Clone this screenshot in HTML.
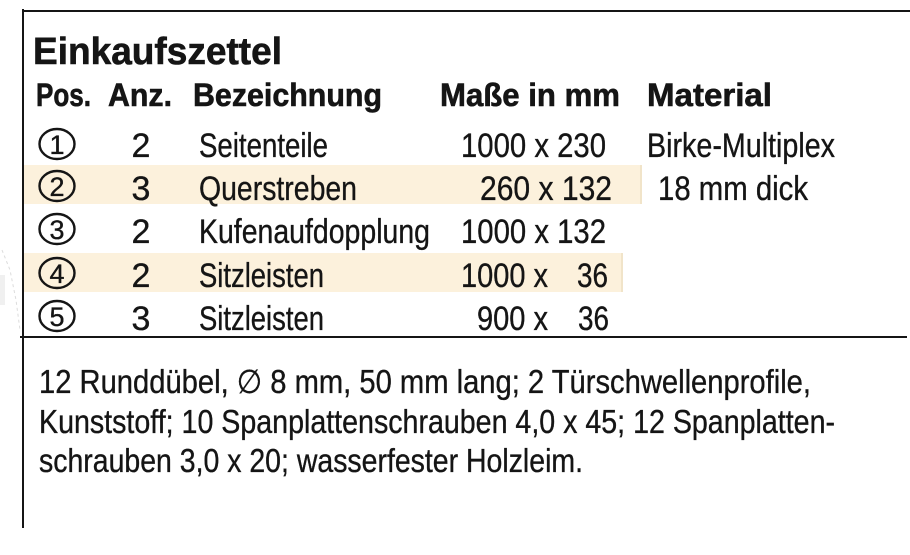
<!DOCTYPE html>
<html>
<head>
<meta charset="utf-8">
<style>
  html, body { margin: 0; padding: 0; background: #ffffff; }
  body { width: 910px; height: 555px; overflow: hidden; }
  svg { display: block; }
  text { fill: #151515; font-family: "Liberation Sans", "DejaVu Sans", sans-serif; stroke: #151515; stroke-width: 0.35; }
  .b { font-weight: bold; stroke-width: 0.6; }
</style>
</head>
<body>
<svg width="910" height="555" viewBox="0 0 910 555" xmlns="http://www.w3.org/2000/svg">
  <rect x="0" y="0" width="910" height="555" fill="#ffffff"/>

  <!-- faint artifacts at left edge -->
  <path d="M2 250 L10 270 L16 300 L20 330" stroke="#dcdcdc" stroke-width="1" stroke-dasharray="3,3" fill="none"/>
  <rect x="0" y="275" width="5" height="30" fill="#f0f0f0"/>

  <!-- highlight bands -->
  <rect x="23" y="165" width="619" height="39" fill="#fcf1dc"/>
  <rect x="640" y="165" width="2" height="39" fill="#f1e4c9"/>
  <rect x="23" y="253" width="600" height="39" fill="#fcf1dc"/>
  <rect x="621" y="253" width="2" height="39" fill="#f1e4c9"/>

  <!-- lines -->
  <rect x="22" y="10" width="888" height="2" fill="#151515"/>
  <rect x="22" y="9" width="2" height="519" fill="#151515"/>
  <rect x="20" y="336" width="887" height="2" fill="#151515"/>

  <!-- title -->
  <text class="b" x="33" y="64" font-size="38" textLength="249" lengthAdjust="spacingAndGlyphs">Einkaufszettel</text>

  <!-- header -->
  <text class="b" x="36" y="106" font-size="32" textLength="55" lengthAdjust="spacingAndGlyphs">Pos.</text>
  <text class="b" x="108" y="106" font-size="32" textLength="64" lengthAdjust="spacingAndGlyphs">Anz.</text>
  <text class="b" x="193" y="106" font-size="32" textLength="189" lengthAdjust="spacingAndGlyphs">Bezeichnung</text>
  <text class="b" x="440" y="106" font-size="32" textLength="180" lengthAdjust="spacingAndGlyphs">Maße in mm</text>
  <text class="b" x="647" y="106" font-size="32" textLength="125" lengthAdjust="spacingAndGlyphs">Material</text>

  <!-- circled numbers -->
  <g fill="none" stroke="#151515" stroke-width="2.4">
    <ellipse cx="57" cy="144" rx="17.5" ry="15"/>
    <ellipse cx="57" cy="186" rx="17.5" ry="15"/>
    <ellipse cx="57" cy="229" rx="17.5" ry="15"/>
    <ellipse cx="57" cy="273" rx="17.5" ry="15"/>
    <ellipse cx="57" cy="316" rx="17.5" ry="15"/>
  </g>
  <g font-size="27" text-anchor="middle">
    <text x="57" y="154">1</text>
    <text x="57" y="196">2</text>
    <text x="57" y="239">3</text>
    <text x="57" y="283">4</text>
    <text x="57" y="326">5</text>
  </g>

  <!-- Anz -->
  <g font-size="34" text-anchor="middle">
    <text x="141" y="157">2</text>
    <text x="141" y="200">3</text>
    <text x="141" y="243">2</text>
    <text x="141" y="287">2</text>
    <text x="141" y="330">3</text>
  </g>

  <!-- Bezeichnung -->
  <g font-size="34">
    <text x="199" y="157" textLength="129" lengthAdjust="spacingAndGlyphs">Seitenteile</text>
    <text x="199" y="200" textLength="158" lengthAdjust="spacingAndGlyphs">Querstreben</text>
    <text x="199" y="243" textLength="231" lengthAdjust="spacingAndGlyphs">Kufenaufdopplung</text>
    <text x="199" y="287" textLength="125" lengthAdjust="spacingAndGlyphs">Sitzleisten</text>
    <text x="199" y="330" textLength="125" lengthAdjust="spacingAndGlyphs">Sitzleisten</text>
  </g>

  <!-- Maße -->
  <g font-size="34">
    <text x="461" y="157" textLength="145" lengthAdjust="spacingAndGlyphs">1000 x 230</text>
    <text x="480" y="200" textLength="132" lengthAdjust="spacingAndGlyphs">260 x 132</text>
    <text x="461" y="243" textLength="145" lengthAdjust="spacingAndGlyphs">1000 x 132</text>
    <text x="461" y="287" textLength="87" lengthAdjust="spacingAndGlyphs">1000 x</text>
    <text x="577" y="287" textLength="31" lengthAdjust="spacingAndGlyphs">36</text>
    <text x="477" y="330" textLength="71" lengthAdjust="spacingAndGlyphs">900 x</text>
    <text x="578" y="330" textLength="31" lengthAdjust="spacingAndGlyphs">36</text>
  </g>

  <!-- Material -->
  <g font-size="34">
    <text x="647" y="157" textLength="188" lengthAdjust="spacingAndGlyphs">Birke-Multiplex</text>
    <text x="658" y="200" textLength="150" lengthAdjust="spacingAndGlyphs">18 mm dick</text>
  </g>

  <!-- bottom paragraph -->
  <g font-size="33">
    <text x="39" y="393" textLength="772" lengthAdjust="spacingAndGlyphs">12 Runddübel, ∅ 8 mm, 50 mm lang; 2 Türschwellenprofile,</text>
    <text x="39" y="433" textLength="796" lengthAdjust="spacingAndGlyphs">Kunststoff; 10 Spanplattenschrauben 4,0 x 45; 12 Spanplatten-</text>
    <text x="39" y="472" textLength="544" lengthAdjust="spacingAndGlyphs">schrauben 3,0 x 20; wasserfester Holzleim.</text>
  </g>
</svg>
</body>
</html>
